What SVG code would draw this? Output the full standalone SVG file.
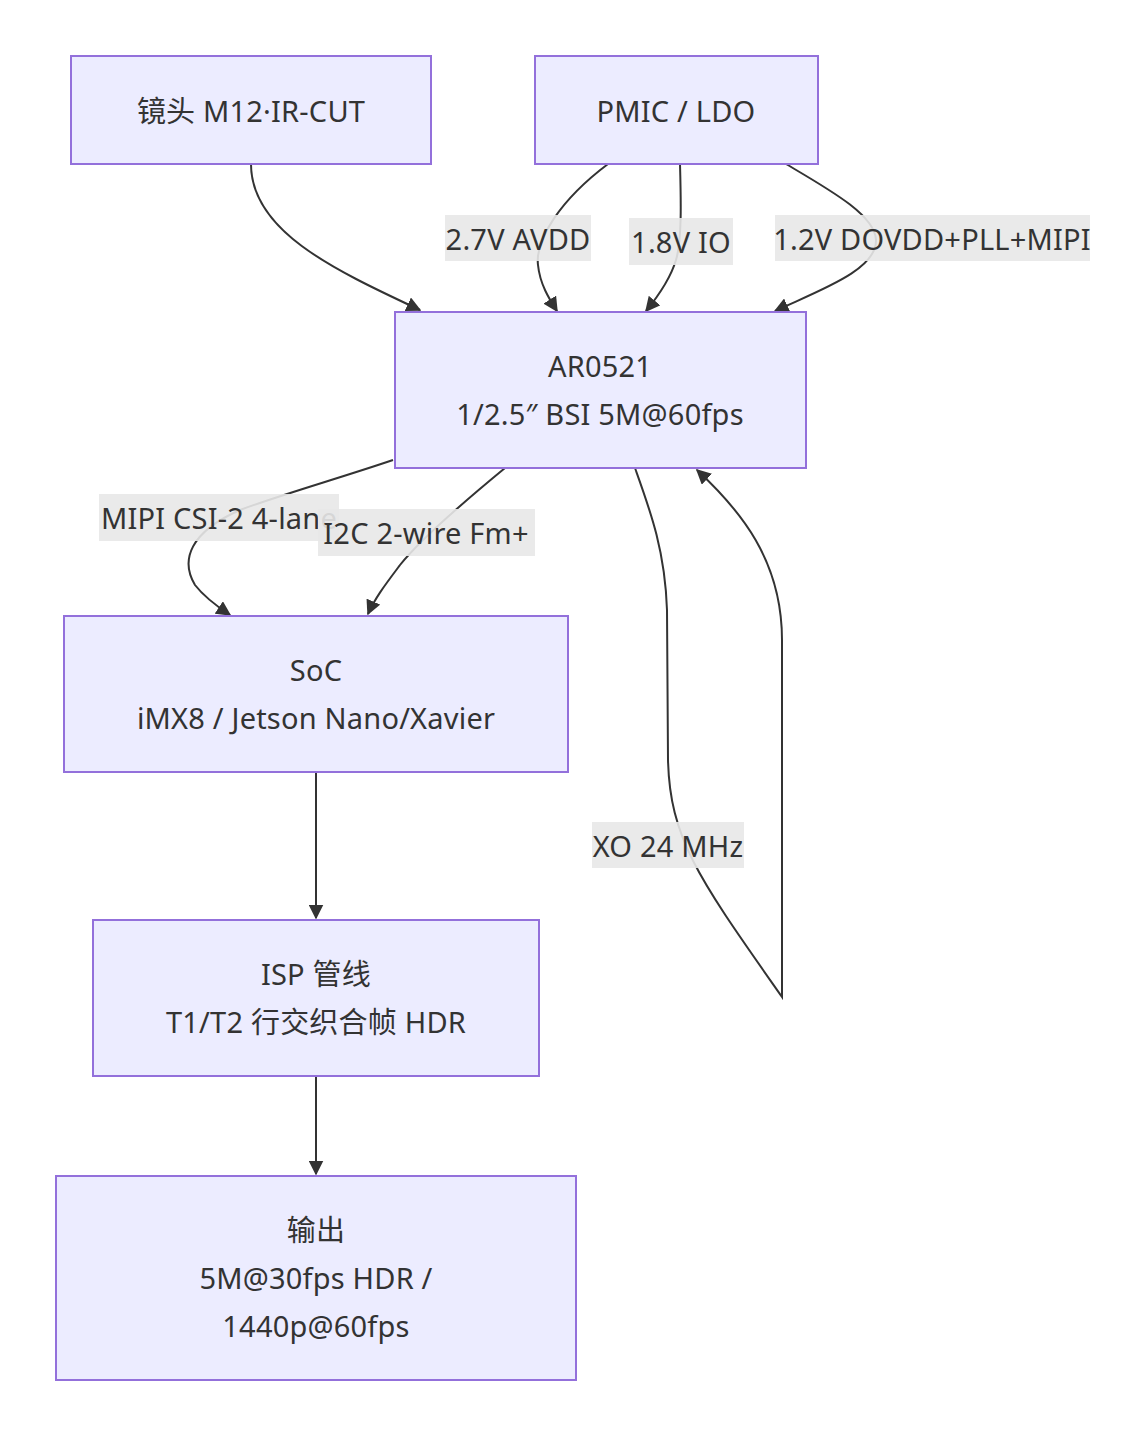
<svg xmlns="http://www.w3.org/2000/svg" width="1146" height="1436" viewBox="0 0 1146 1436">
<style>
.node rect{fill:#ECECFF;stroke:#9370DB;stroke-width:2}
text{font-family:"Noto Sans","Noto Sans CJK SC",sans-serif;font-size:29px;letter-spacing:0.2px;fill:#333;text-anchor:middle;dominant-baseline:central}
.edge{fill:none;stroke:#333;stroke-width:2}
.lbl rect{fill:#E8E8E8;opacity:0.9}
</style>
<defs>
<marker id="arr" viewBox="0 0 10 10" refX="9" refY="5" markerWidth="15" markerHeight="15" markerUnits="userSpaceOnUse" orient="auto">
<path d="M0,0 L10,5 L0,10 z" fill="#333"/>
</marker>
</defs>
<rect width="1146" height="1436" fill="#fff"/>
<g id="connectors">
<path class="edge" d="M251,164 C251,230 330,268 420,310" marker-end="url(#arr)"/>
<path class="edge" d="M608,164 C560,200 535,240 538,265 C540,285 550,300 557,311" marker-end="url(#arr)"/>
<path class="edge" d="M680,164 C681,200 682,240 676,260 C670,280 655,300 646,311" marker-end="url(#arr)"/>
<path class="edge" d="M786,164 C830,190 875,215 876,240 C877,270 820,290 775,311" marker-end="url(#arr)"/>
<path class="edge" d="M393,460 C340,478 280,495 240,510 C190,532 180,560 195,585 C205,598 218,607 230,615" marker-end="url(#arr)"/>
<path class="edge" d="M505,468 C460,505 420,540 400,565 C385,585 375,598 368,614" marker-end="url(#arr)"/>
<path class="edge" d="M635,468 C650,510 665,550 667,610 L668,760 C670,840 700,880 782,997 L782,640 C782,560 740,510 697,470" marker-end="url(#arr)"/>
<path class="edge" d="M316,772 L316,918" marker-end="url(#arr)"/>
<path class="edge" d="M316,1076 L316,1174" marker-end="url(#arr)"/>
</g>
<g id="edge-labels">
<g class="lbl"><rect x="445" y="215" width="146" height="46"/><text x="518" y="238">2.7V AVDD</text></g>
<g class="lbl"><rect x="629" y="218" width="104" height="47"/><text x="681" y="241">1.8V IO</text></g>
<g class="lbl"><rect x="775" y="215" width="315" height="46"/><text x="932" y="238">1.2V DOVDD+PLL+MIPI</text></g>
<g class="lbl"><rect x="99" y="494" width="240" height="47"/><text x="219" y="517">MIPI CSI-2 4-lane</text></g>
<g class="lbl"><rect x="318" y="509" width="217" height="47"/><text x="426" y="532">I2C 2-wire Fm+</text></g>
<g class="lbl"><rect x="592" y="822" width="152" height="46"/><text x="668" y="845">XO 24 MHz</text></g>
</g>
<g id="lens" class="node"><rect x="71" y="56" width="360" height="108"/><text x="251" y="110">镜头 M12·IR-CUT</text></g>
<g id="pmic" class="node"><rect x="535" y="56" width="283" height="108"/><text x="676" y="110">PMIC / LDO</text></g>
<g id="sensor" class="node"><rect x="395" y="312" width="411" height="156"/><text x="600" y="365">AR0521</text><text x="600" y="413">1/2.5″ BSI 5M@60fps</text></g>
<g id="soc" class="node"><rect x="64" y="616" width="504" height="156"/><text x="316" y="669">SoC</text><text x="316" y="717">iMX8 / Jetson Nano/Xavier</text></g>
<g id="isp" class="node"><rect x="93" y="920" width="446" height="156"/><text x="316" y="973">ISP 管线</text><text x="316" y="1021">T1/T2 行交织合帧 HDR</text></g>
<g id="output" class="node"><rect x="56" y="1176" width="520" height="204"/><text x="316" y="1229">输出</text><text x="316" y="1277">5M@30fps HDR /</text><text x="316" y="1325">1440p@60fps</text></g>
</svg>
